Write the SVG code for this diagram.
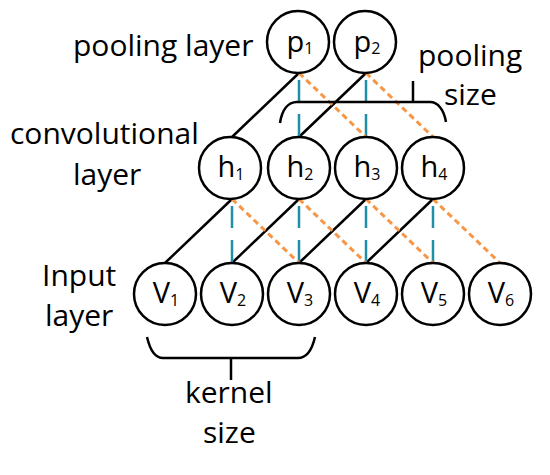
<svg xmlns="http://www.w3.org/2000/svg" width="550" height="475" viewBox="0 0 550 475">
<style>
.node circle{fill:#fff;stroke:#000;stroke-width:2.5}
.lbl{font-family:"Open Sans","Liberation Sans",sans-serif;font-size:30px;fill:#000}
.nl{font-family:"Open Sans","Liberation Sans",sans-serif;font-size:29px;fill:#000;text-anchor:middle}
.sub{font-size:16px}
.solid{stroke:#000;stroke-width:2.5;fill:none}
.teal{stroke:#1f8ea6;stroke-width:2.5;stroke-dasharray:22 12;fill:none}
.orange{stroke:#f79646;stroke-width:3;stroke-dasharray:6 4;fill:none}
.brace{stroke:#000;stroke-width:2.5;fill:none}
</style>
<rect width="550" height="475" fill="#fff"/>
<g id="connectors">
  <line class="solid" x1="165" y1="263" x2="232" y2="199"/>
  <line class="solid" x1="232" y1="263" x2="299" y2="199"/>
  <line class="solid" x1="299" y1="263" x2="366" y2="199"/>
  <line class="solid" x1="366" y1="263" x2="433" y2="199"/>
  <line class="solid" x1="232" y1="137" x2="299" y2="73"/>
  <line class="solid" x1="299" y1="137" x2="366" y2="73"/>
  <line class="teal" x1="232" y1="206" x2="232" y2="263"/>
  <line class="teal" x1="299" y1="206" x2="299" y2="263"/>
  <line class="teal" x1="366" y1="206" x2="366" y2="263"/>
  <line class="teal" x1="433" y1="206" x2="433" y2="263"/>
  <line class="teal" x1="299" y1="80" x2="299" y2="137"/>
  <line class="teal" x1="366" y1="80" x2="366" y2="137"/>
  <line class="orange" x1="232" y1="199" x2="299" y2="263"/>
  <line class="orange" x1="299" y1="199" x2="366" y2="263"/>
  <line class="orange" x1="366" y1="199" x2="433" y2="263"/>
  <line class="orange" x1="433" y1="199" x2="500" y2="263"/>
  <line class="orange" x1="299" y1="73" x2="366" y2="137"/>
  <line class="orange" x1="366" y1="73" x2="433" y2="137"/>
</g>
<g id="pool-brace">
  <path class="brace" d="M280,123 C282,110 288,102 297,102 L430,102 C438,102 444,110 446,122"/>
  <path class="brace" d="M413,102 V81"/>
</g>
<g id="kernel-brace">
  <path class="brace" d="M147,337 C150,350 155,358 163,358 L298,358 C306,358 312,350 315,337"/>
  <path class="brace" d="M231,358 V380"/>
</g>
<g id="p1" class="node"><circle cx="298" cy="42" r="31"/><text class="nl" x="300" y="52">p<tspan class="sub" dy="2">1</tspan></text></g>
<g id="p2" class="node"><circle cx="365" cy="42" r="31"/><text class="nl" x="367" y="52">p<tspan class="sub" dy="2">2</tspan></text></g>
<g id="h1" class="node"><circle cx="230" cy="168" r="31"/><text class="nl" x="231" y="177">h<tspan class="sub" dy="3">1</tspan></text></g>
<g id="h2" class="node"><circle cx="299" cy="168" r="31"/><text class="nl" x="300" y="177">h<tspan class="sub" dy="3">2</tspan></text></g>
<g id="h3" class="node"><circle cx="366" cy="168" r="31"/><text class="nl" x="367" y="177">h<tspan class="sub" dy="3">3</tspan></text></g>
<g id="h4" class="node"><circle cx="433" cy="168" r="31"/><text class="nl" x="434" y="177">h<tspan class="sub" dy="3">4</tspan></text></g>
<g id="v1" class="node"><circle cx="165" cy="294" r="31"/><text class="nl" x="166" y="303">V<tspan class="sub" dy="3">1</tspan></text></g>
<g id="v2" class="node"><circle cx="232" cy="294" r="31"/><text class="nl" x="233" y="303">V<tspan class="sub" dy="3">2</tspan></text></g>
<g id="v3" class="node"><circle cx="299" cy="294" r="31"/><text class="nl" x="300" y="303">V<tspan class="sub" dy="3">3</tspan></text></g>
<g id="v4" class="node"><circle cx="366" cy="294" r="31"/><text class="nl" x="367" y="303">V<tspan class="sub" dy="3">4</tspan></text></g>
<g id="v5" class="node"><circle cx="433" cy="294" r="31"/><text class="nl" x="434" y="303">V<tspan class="sub" dy="3">5</tspan></text></g>
<g id="v6" class="node"><circle cx="500" cy="294" r="31"/><text class="nl" x="501" y="303">V<tspan class="sub" dy="3">6</tspan></text></g>
<g id="labels">
  <text class="lbl" x="73" y="56">pooling layer</text>
  <text class="lbl" x="10" y="144">convolutional</text>
  <text class="lbl" x="73" y="185">layer</text>
  <text class="lbl" x="42" y="286">Input</text>
  <text class="lbl" x="45" y="326">layer</text>
  <text class="lbl" x="418" y="66">pooling</text>
  <text class="lbl" x="444" y="105">size</text>
  <text class="lbl" x="185" y="403">kernel</text>
  <text class="lbl" x="203" y="443">size</text>
</g>
</svg>
